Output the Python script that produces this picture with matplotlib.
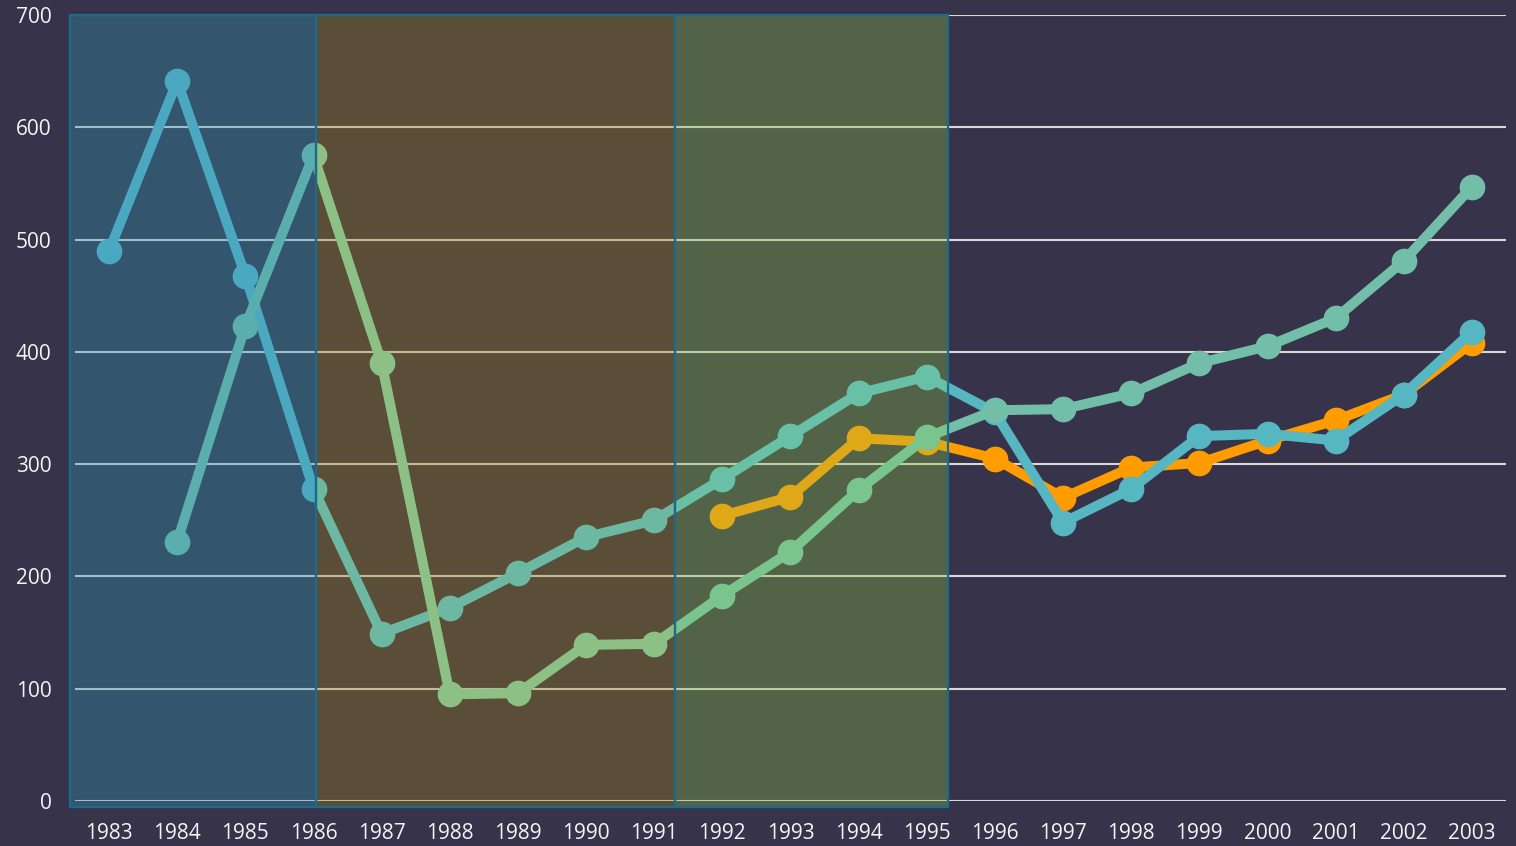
import matplotlib.pyplot as plt
import numpy as np
from matplotlib.patches import Rectangle
from matplotlib import rcParams

years = [str(y) for y in range(1983, 2004)]

# series values (None = no point)
series_a = [490, 641, 468, 278, 149, 172, 203, 235, 250, 287, 325, 363, 378,
            346, 248, 278, 325, 327, 321, 362, 418]
series_b = [None, 231, 423, 575, 390, 95, 96, 139, 140, 183, 222, 277, 324,
            348, 349, 363, 390, 405, 430, 481, 547]
series_c = [None] * 9 + [254, 271, 323, 320, 305, 270, 297, 301, 321, 339, 362, 408]

# shaded periods, in category index units
band_edges = [-0.57, 3.04, 8.31, 12.31]
band_colors = [(0.19, 0.59, 0.69, 0.35), (0.62, 0.51, 0.11, 0.35), (0.54, 0.75, 0.27, 0.35)]

# line colours: [outside, blue band, brown band, green band]
colors_a = ['#56b6c2', '#4aa8c0', '#6cb8a2', '#68c0a6']
colors_b = ['#72bea8', '#5aaeae', '#8cc084', '#7ac48e']
colors_c = ['#ff9c00', '#ff9c00', '#ff9c00', '#dea818']

bg = '#36334a'
rcParams['font.family'] = ['Open Sans', 'DejaVu Sans']

fig = plt.figure(figsize=(15.16, 8.46), dpi=100, facecolor=bg)
ax = fig.add_axes([75 / 1516, 45 / 846, 1431 / 1516, 786 / 846])
ax.set_facecolor(bg)
ax.set_xlim(-0.5, len(years) - 0.5)
ax.set_ylim(0, 700)
for s in ax.spines.values():
    s.set_visible(False)
ax.set_xticks(range(len(years)))
ax.set_xticklabels(years)
ax.set_yticks(range(0, 701, 100))
ax.tick_params(length=0, colors='#f4f4f4', labelsize=15)
ax.tick_params(axis='x', pad=16)
ax.tick_params(axis='y', pad=17)
ax.grid(axis='y', color='#d8d8d8', linewidth=1.5, zorder=0)
ax.set_axisbelow(True)

# shaded bands
for i in range(3):
    x0, x1 = band_edges[i], band_edges[i + 1]
    ax.add_patch(Rectangle((x0, -5.3), x1 - x0, 705.3, facecolor=band_colors[i],
                           edgecolor='none', zorder=1, clip_on=False))
    ax.add_patch(Rectangle((x0, -5.3), x1 - x0, 705.3, facecolor='none',
                           edgecolor='#1e6a8a', linewidth=1.6, zorder=5, clip_on=False))

# clip regions: outside, blue, brown, green
regions = [(band_edges[3], 30)] + [(band_edges[i], band_edges[i + 1]) for i in range(3)]


def draw(values, cols, z):
    x = np.array([i for i, v in enumerate(values) if v is not None], dtype=float)
    y = np.array([v for v in values if v is not None], dtype=float)
    for (x0, x1), c in zip(regions, cols):
        clip = Rectangle((x0, -50), x1 - x0, 800, transform=ax.transData)
        ln, = ax.plot(x, y, color=c, linewidth=7.2, marker='o', markersize=17.5,
                      solid_joinstyle='round', solid_capstyle='round', zorder=z)
        ln.set_clip_path(clip)


draw(series_c, colors_c, 2)
draw(series_a, colors_a, 3)
draw(series_b, colors_b, 4)

fig.savefig('out.png', dpi=100, facecolor=bg)
